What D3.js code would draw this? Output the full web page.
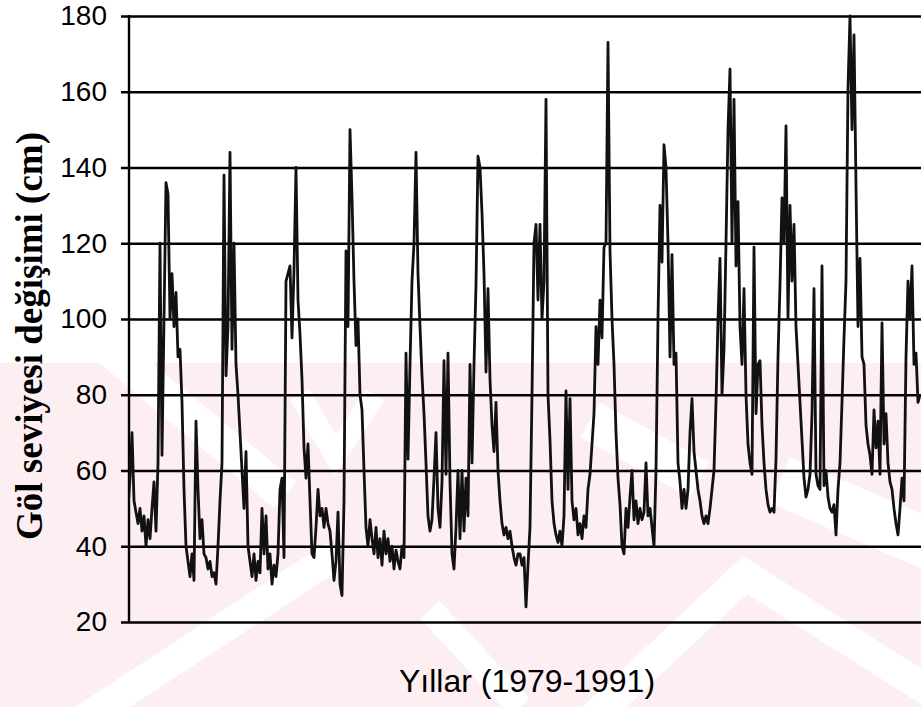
<!DOCTYPE html>
<html><head><meta charset="utf-8">
<script src="https://cdn.jsdelivr.net/npm/d3@7"></script>
<style>body{margin:0;background:#fff}svg{display:block}</style>
</head><body>
<svg id="c" width="921" height="707"></svg>
<script>
// ---- data (lake level change, cm), ~31 samples per year ----
const yTicks = [20, 40, 60, 80, 100, 120, 140, 160, 180];
const years = [1979,1980,1981,1982,1983,1984,1985,1986,1987,1988,1989,1990,1991];
const y1979 = [50,58,70,52,49,46,50,44,48,40,47,42,50,57,44,62,120,64,100,136,133,100,112,98,107,90,92,78,55,40,36];
const y1980 = [32,38,31,73,55,42,47,38,37,34,36,32,33,30,40,52,62,138,85,98,144,92,120,88,80,70,60,50,65,40,36];
const y1981 = [32,38,31,36,33,50,38,48,34,38,30,35,32,38,55,58,37,110,112,114,95,113,140,105,96,84,66,58,67,52,38];
const y1982 = [37,45,55,48,50,45,50,46,44,38,31,36,49,30,27,52,118,98,150,132,110,93,100,80,76,60,45,40,47,42,38];
const y1983 = [45,37,42,35,44,38,42,36,40,34,39,36,34,40,37,91,63,88,110,120,144,112,98,85,75,62,48,44,47,58,70];
const y1984 = [50,45,57,89,59,91,57,38,34,45,60,42,60,44,58,48,88,62,88,109,143,140,128,112,86,108,84,72,65,78,60];
const y1985 = [52,46,43,45,42,44,40,37,35,38,38,35,37,24,35,45,80,120,125,105,125,100,110,158,80,68,52,46,43,41,44];
const y1986 = [40,48,81,55,79,52,47,50,43,46,42,48,45,55,59,67,75,98,88,105,95,119,120,173,118,100,88,70,58,51,40];
const y1987 = [38,50,45,53,60,47,52,46,50,47,49,62,48,50,45,40,60,100,130,115,146,140,120,90,117,88,91,62,57,50,55];
const y1988 = [50,55,70,79,65,60,55,52,48,46,48,46,50,55,60,78,100,116,80,92,120,150,166,120,158,114,131,98,88,108,80];
const y1989 = [67,62,59,119,75,88,89,72,62,55,51,49,50,49,63,90,109,132,120,151,100,130,110,125,98,88,78,68,58,53,55];
const y1990 = [59,75,108,59,56,55,114,56,60,53,50,49,51,43,55,62,78,95,110,161,180,150,175,135,98,116,90,88,72,67,64];
const y1991 = [59,76,66,73,59,99,67,75,62,57,55,50,46,43,50,58,52,90,110,100,114,88,91,78,80];
const perYear = 31;

const yTitle = "Göl seviyesi değişimi (cm)";
const xTitle = "Yıllar (1979-1991)";

const series = [].concat(y1979,y1980,y1981,y1982,y1983,y1984,y1985,y1986,y1987,y1988,y1989,y1990,y1991)
  .map((v, i) => ({i, v}));

const W = 921, H = 707;
const svg = d3.select('#c');

// ---- background watermark (decorative) ----
const wm = svg.append('g');
wm.append('rect').attr('x',0).attr('y',363).attr('width',W).attr('height',H-363).attr('fill','#fdeef1');
const whiteStripes = [
  {p: [[110,350],[285,495]], w: 34},
  {p: [[75,725],[335,555]], w: 30},
  {p: [[300,395],[335,455],[375,395]], w: 22},
  {p: [[585,725],[745,575],[935,695]], w: 30},
  {p: [[590,420],[700,480]], w: 40},
  {p: [[780,480],[930,545]], w: 50},
  {p: [[430,610],[520,707]], w: 26}
];
wm.selectAll('path').data(whiteStripes).join('path')
  .attr('d', d => d3.line()(d.p))
  .attr('stroke','#ffffff').attr('stroke-width', d => d.w).attr('fill','none');

// ---- scales ----
const x = d3.scaleLinear().domain([0, years.length * perYear]).range([128, 128 + years.length * 62]);
const y = d3.scaleLinear().domain([20, 180]).range([622, 16]);

// ---- grid + tick labels via axis ----
const axis = d3.axisLeft(y).tickValues(yTicks).tickSize(-(W - 121)).tickPadding(14);
const ag = svg.append('g').attr('transform', 'translate(121,0)').call(axis);
ag.select('.domain').remove();
ag.selectAll('.tick line').attr('stroke', '#000').attr('stroke-width', 2.4);
ag.selectAll('.tick text')
  .attr('font-family', 'Liberation Sans, Arial, sans-serif')
  .attr('font-size', 28).attr('fill', '#000');

// vertical axis line
svg.append('line').attr('x1', 129).attr('x2', 129).attr('y1', y(180) - 1).attr('y2', y(20) + 1)
  .attr('stroke', '#000').attr('stroke-width', 2.4);

// ---- series line ----
svg.append('clipPath').attr('id', 'clip').append('rect')
  .attr('x', 129).attr('y', 0).attr('width', W - 129).attr('height', H);
svg.append('path').datum(series)
  .attr('clip-path', 'url(#clip)')
  .attr('d', d3.line().x(d => x(d.i)).y(d => y(d.v)))
  .attr('fill', 'none').attr('stroke', '#111').attr('stroke-width', 2.8)
  .attr('stroke-linejoin', 'round');

// ---- titles ----
svg.append('text').attr('transform', 'translate(42,336) rotate(-90)')
  .attr('text-anchor', 'middle')
  .attr('font-family', 'Liberation Serif, Times New Roman, serif')
  .attr('font-weight', 'bold').attr('font-size', 37).attr('fill', '#000')
  .text(yTitle);
svg.append('text').attr('x', 527).attr('y', 692)
  .attr('text-anchor', 'middle')
  .attr('font-family', 'Liberation Sans, Arial, sans-serif')
  .attr('font-size', 32).attr('fill', '#000')
  .text(xTitle);
</script>
</body></html>
